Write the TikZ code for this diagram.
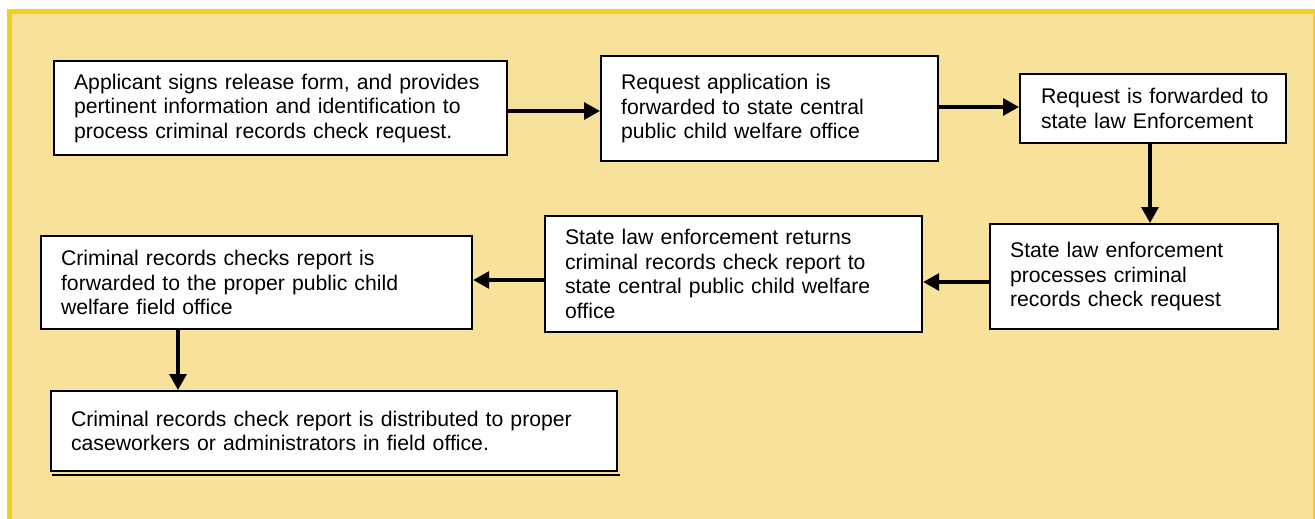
\documentclass[tikz,border=0pt]{standalone}
\usepackage{fontspec}
\setmainfont{Liberation Sans}
\usetikzlibrary{arrows.meta}
\definecolor{bgfill}{HTML}{F8E19A}
\definecolor{frame}{HTML}{F2D01E}
\tikzset{
  stepbox/.style={draw=black, line width=2.2pt, fill=white, anchor=north west,
    align=left, inner xsep=20pt, inner ysep=0pt,
    font=\fontsize{21.2}{24.5}\selectfont},
  flow/.style={line width=3.2pt, -{Triangle[length=16pt,width=17pt]}}
}
\begin{document}
\begin{tikzpicture}[x=1pt,y=-1pt]
\useasboundingbox (0,0) rectangle (1315,519);
\fill[white] (0,0) rectangle (1315,519);
\fill[frame] (7,9) rectangle (1316,520);
\fill[bgfill] (12,14) rectangle (1313,520);

\node[stepbox, minimum width=453pt, minimum height=94pt, text width=413pt] (A) at (53,60)
 {Applicant signs release form, and provides\\pertinent information and identification to\\process criminal records check request.};
\node[stepbox, minimum width=337pt, minimum height=105pt, text width=297pt] (B) at (600,55)
 {Request application is\\forwarded to state central\\public child welfare office\\[6pt]};
\node[stepbox, minimum width=266pt, minimum height=69pt, text width=240pt, inner xsep=13pt] (C) at (1019,73)
 {\hspace*{8pt}Request is forwarded to\\\hspace*{8pt}state law Enforcement};
\node[stepbox, minimum width=288pt, minimum height=105pt, text width=248pt] (D) at (989,223)
 {State law enforcement\\processes criminal\\records check request\\[5pt]};
\node[stepbox, minimum width=377pt, minimum height=116pt, text width=337pt] (E) at (544,215)
 {State law enforcement returns\\criminal records check report to\\state central public child welfare\\office};
\node[stepbox, minimum width=431pt, minimum height=93pt, text width=391pt] (F) at (40,235)
 {Criminal records checks report is\\forwarded to the proper public child\\welfare field office};
\node[stepbox, minimum width=566pt, minimum height=80pt, text width=526pt] (G) at (50,390)
 {Criminal records check report is distributed to proper\\caseworkers or administrators in field office.};
\draw[line width=2pt] ([xshift=2pt,yshift=-3pt]G.south west) -- ([xshift=2pt,yshift=-3pt]G.south east);

\coordinate (ab) at (0,111);
\coordinate (bc) at (0,107);
\coordinate (cd) at (1150,0);
\coordinate (de) at (0,282);
\coordinate (ef) at (0,280);
\coordinate (fg) at (178,0);

\draw[flow] (A.east |- ab) -- (B.west |- ab);
\draw[flow] (B.east |- bc) -- (C.west |- bc);
\draw[flow] (C.south -| cd) -- (D.north -| cd);
\draw[flow] (D.west |- de) -- (E.east |- de);
\draw[flow] (E.west |- ef) -- (F.east |- ef);
\draw[flow] (F.south -| fg) -- (G.north -| fg);
\end{tikzpicture}
\end{document}
